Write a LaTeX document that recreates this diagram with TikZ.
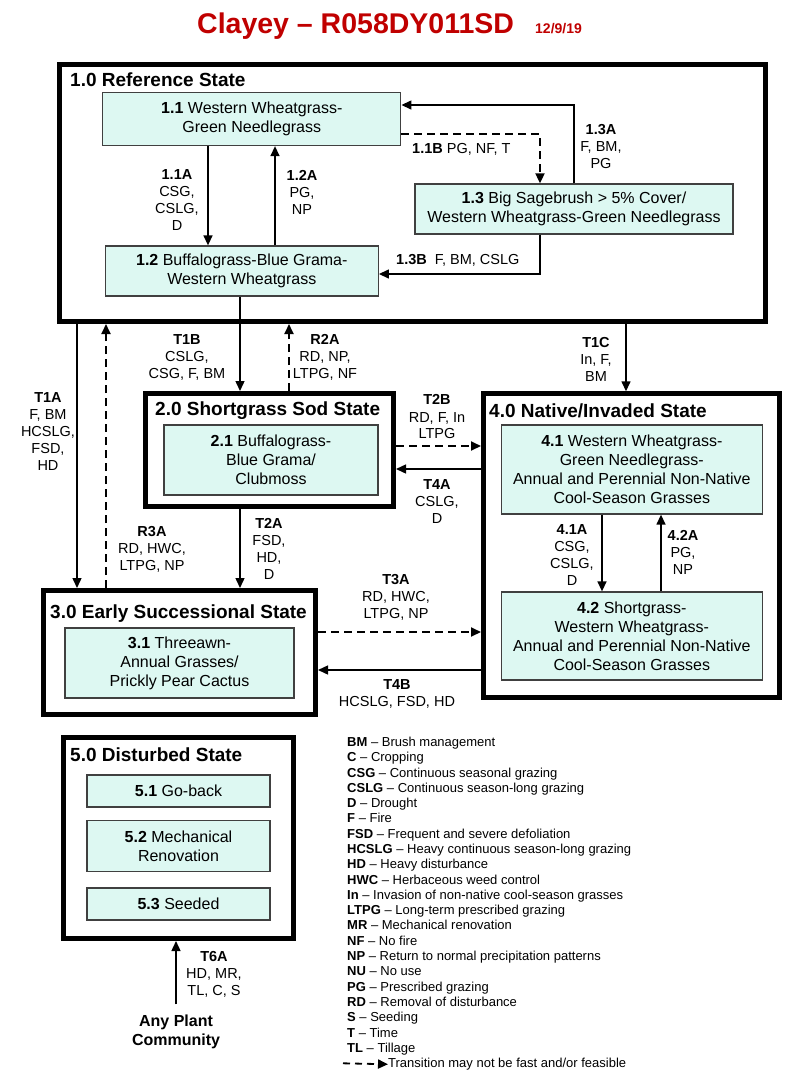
\documentclass[tikz,border=0pt]{standalone}
\usepackage{fontspec}
\setmainfont{Liberation Sans}
\usetikzlibrary{arrows.meta}
\definecolor{commfill}{RGB}{221,248,242}
\definecolor{titlered}{RGB}{192,0,0}
\tikzset{
  statebox/.style={draw, line width=5pt, inner sep=0pt},
  statetitle/.style={anchor=base west, inner sep=0pt, font=\fontsize{19}{22}\selectfont\bfseries},
  commbox/.style={draw=black!75, line width=1.3pt, fill=commfill, inner sep=0pt,
    align=center, font=\fontsize{16}{19}\selectfont},
  trans/.style={draw, line width=1.4pt, -{Triangle[length=10pt,width=9pt]}},
  trdash/.style={trans, line width=1.8pt, dash pattern=on 8pt off 5pt},
  trlabel/.style={align=center, inner sep=0pt, font=\fontsize{14.5}{17}\selectfont},
  keyline/.style={anchor=base west, inner sep=0pt, font=\fontsize{13}{15}\selectfont}
}
\begin{document}
\begin{tikzpicture}[x=1pt,y=-1pt]
\useasboundingbox (0,0) rectangle (800,1085);

\node[anchor=base west, inner sep=0pt, text=titlered, font=\fontsize{28.5}{32}\selectfont\bfseries] (title) at (197,33) {Clayey -- R058DY011SD};
\node[anchor=base west, inner sep=0pt, text=titlered, font=\fontsize{14}{16}\selectfont\bfseries] (date) at (535,33) {12/9/19};

% states
\node[statebox, minimum width=706pt, minimum height=257pt] (f1) at (412.5,193) {};
\node[statebox, minimum width=248pt, minimum height=113pt] (f2) at (269.5,450) {};
\node[statebox, minimum width=272pt, minimum height=124pt] (f3) at (179.5,652.5) {};
\node[statebox, minimum width=296pt, minimum height=304pt] (f4) at (631.5,545.8) {};
\node[statebox, minimum width=230pt, minimum height=201pt] (f5) at (178.3,838) {};

\node[statetitle] at (70,86.5) {1.0 Reference State};
\node[statetitle] at (155,415.5) {2.0 Shortgrass Sod State};
\node[statetitle] at (50,618.5) {3.0 Early Successional State};
\node[statetitle] at (489,417.5) {4.0 Native/Invaded State};
\node[statetitle] at (70,761.5) {5.0 Disturbed State};

% communities
\node[commbox, minimum width=298pt, minimum height=53pt] (b11) at (251.8,119) {\textbf{1.1} Western Wheatgrass-\\Green Needlegrass};
\node[commbox, minimum width=273pt, minimum height=50pt] (b12) at (241.8,271) {\textbf{1.2} Buffalograss-Blue Grama-\\Western Wheatgrass};
\node[commbox, minimum width=318pt, minimum height=50pt] (b13) at (574,209) {\textbf{1.3} Big Sagebrush > 5\% Cover/\\Western Wheatgrass-Green Needlegrass};
\node[commbox, minimum width=214pt, minimum height=70pt] (b21) at (271,460) {\textbf{2.1} Buffalograss-\\Blue Grama/\\Clubmoss};
\node[commbox, minimum width=229pt, minimum height=70pt] (b31) at (179.5,663) {\textbf{3.1} Threeawn-\\Annual Grasses/\\Prickly Pear Cactus};
\node[commbox, minimum width=261pt, minimum height=89pt] (b41) at (631.8,469.5) {\textbf{4.1} Western Wheatgrass-\\Green Needlegrass-\\Annual and Perennial Non-Native\\Cool-Season Grasses};
\node[commbox, minimum width=261pt, minimum height=88pt] (b42) at (631.8,636) {\textbf{4.2} Shortgrass-\\Western Wheatgrass-\\Annual and Perennial Non-Native\\Cool-Season Grasses};
\node[commbox, minimum width=183pt, minimum height=32pt] (b51) at (178.5,791) {\textbf{5.1} Go-back};
\node[commbox, minimum width=183pt, minimum height=51pt] (b52) at (178.5,846) {\textbf{5.2} Mechanical\\Renovation};
\node[commbox, minimum width=183pt, minimum height=32pt] (b53) at (178.5,904) {\textbf{5.3} Seeded};

\node[align=center, inner sep=0pt, font=\fontsize{16}{19}\selectfont\bfseries] (apc) at (176,1031.5) {Any Plant\\Community};

% pathways
\draw[trans] ([xshift=-43.8pt]b11.south) -- ([xshift=-43.8pt]b11.south |- b12.north);
\draw[trans] ([xshift=33.2pt]b12.north) -- ([xshift=33.2pt]b12.north |- b11.south);
\draw[trdash] ([yshift=-15pt]b11.east) -| ([xshift=-34pt]b13.north);
\draw[trans] (b13.north) |- ([yshift=14pt]b11.east);
\draw[trans] ([xshift=-34pt]b13.south) |- ([yshift=-3pt]b12.east);
\draw[trans] ([xshift=-29.8pt]b41.south) -- ([xshift=-29.8pt]b41.south |- b42.north);
\draw[trans] ([xshift=29.2pt]b42.north) -- ([xshift=29.2pt]b42.north |- b41.south);

\node[trlabel] (l11A) at (177,200.5) {\textbf{1.1A}\\CSG,\\CSLG,\\D};
\node[trlabel] (l12A) at (302,192) {\textbf{1.2A}\\PG,\\NP};
\node[trlabel, anchor=west] (l11B) at (412,149) {\textbf{1.1B} PG, NF, T};
\node[trlabel] (l13A) at (601,147) {\textbf{1.3A}\\F, BM,\\PG};
\node[trlabel, anchor=west] (l13B) at (396,260) {\textbf{1.3B}\ \ F, BM, CSLG};
\node[trlabel] (l41A) at (572,555.5) {\textbf{4.1A}\\CSG,\\CSLG,\\D};
\node[trlabel] (l42A) at (683,552) {\textbf{4.2A}\\PG,\\NP};

% transitions
\draw[trans] ([xshift=-1.8pt]b12.south) -- ([xshift=-1.8pt]b12.south |- f2.north);
\draw[trdash] ([xshift=19.5pt]f2.north) -- ([xshift=19.5pt]f2.north |- f1.south);
\draw[trans] ([xshift=-5.5pt]f4.north |- f1.south) -- ([xshift=-5.5pt]f4.north);
\draw[trans] ([xshift=-102.5pt]f3.north |- f1.south) -- ([xshift=-102.5pt]f3.north);
\draw[trdash] ([xshift=-73.5pt]f3.north) -- ([xshift=-73.5pt]f3.north |- f1.south);
\draw[trans] ([xshift=-29.5pt]f2.south) -- ([xshift=-29.5pt]f2.south |- f3.north);
\draw[trdash] ([yshift=4pt]f2.east) -- ([yshift=4pt]f2.east -| f4.west);
\draw[trans] ([yshift=-19pt]f2.east -| f4.west) -- ([yshift=-19pt]f2.east);
\draw[trdash] ([yshift=20.5pt]f3.east) -- ([yshift=20.5pt]f3.east -| f4.west);
\draw[trans] ([yshift=-17.5pt]f3.east -| f4.west) -- ([yshift=-17.5pt]f3.east);
\draw[trans] ([yshift=10pt]apc.north) -- (apc.north |- f5.south);

\node[trlabel] (lT1B) at (187,357) {\textbf{T1B}\\CSLG,\\CSG, F, BM};
\node[trlabel] (lR2A) at (325,357) {\textbf{R2A}\\RD, NP,\\LTPG, NF};
\node[trlabel] (lT1C) at (596,359) {\textbf{T1C}\\In, F,\\BM};
\node[trlabel] (lT1A) at (48,432) {\textbf{T1A}\\F, BM\\HCSLG,\\FSD,\\HD};
\node[trlabel] (lR3A) at (152,549) {\textbf{R3A}\\RD, HWC,\\LTPG, NP};
\node[trlabel] (lT2A) at (269,548.5) {\textbf{T2A}\\FSD,\\HD,\\D};
\node[trlabel] (lT2B) at (437,417) {\textbf{T2B}\\RD, F, In\\LTPG};
\node[trlabel] (lT4A) at (437,502) {\textbf{T4A}\\CSLG,\\D};
\node[trlabel] (lT3A) at (396,597) {\textbf{T3A}\\RD, HWC,\\LTPG, NP};
\node[trlabel] (lT4B) at (397,693.5) {\textbf{T4B}\\HCSLG, FSD, HD};
\node[trlabel] (lT6A) at (214,974) {\textbf{T6A}\\HD, MR,\\TL, C, S};

% key
\foreach \ab/\txt [count=\i from 0] in {BM/Brush management, C/Cropping,
  CSG/Continuous seasonal grazing, CSLG/Continuous season-long grazing,
  D/Drought, F/Fire, FSD/Frequent and severe defoliation,
  HCSLG/Heavy continuous season-long grazing, HD/Heavy disturbance,
  HWC/Herbaceous weed control, In/Invasion of non-native cool-season grasses,
  LTPG/Long-term prescribed grazing, MR/Mechanical renovation, NF/No fire,
  NP/Return to normal precipitation patterns, NU/No use, PG/Prescribed grazing,
  RD/Removal of disturbance, S/Seeding, T/Time, TL/Tillage}
  \node[keyline] (key\i) at (347,{746.5+\i*15.29}) {\textbf{\ab} -- \txt};
\node[keyline] (keydash) at (388,1067.6) {Transition may not be fast and/or feasible};
\coordinate (keystart) at (343,1063.3);
\draw[trans, line width=1.8pt, dash pattern=on 7pt off 5pt] (keystart) -- (keydash.west);
\end{tikzpicture}
\end{document}
